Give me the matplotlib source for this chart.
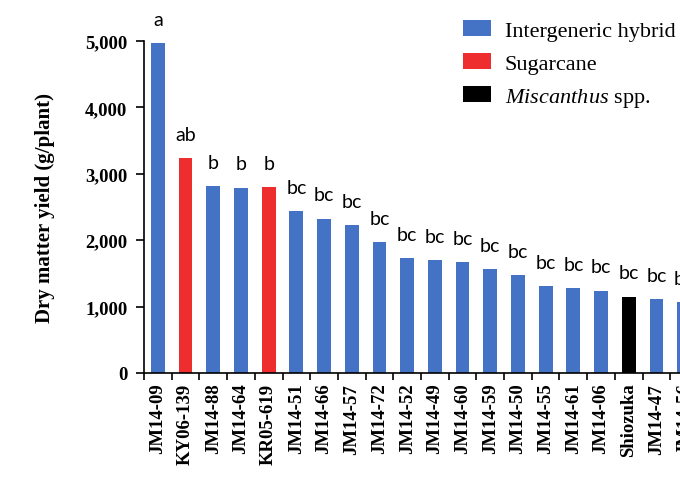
import matplotlib
matplotlib.use("Agg")
import matplotlib.pyplot as plt
from matplotlib.patches import Patch
from matplotlib.ticker import FuncFormatter, FixedLocator

plt.rcParams["mathtext.fontset"] = "custom"
plt.rcParams["mathtext.it"] = "Liberation Serif:italic"
plt.rcParams["mathtext.rm"] = "Liberation Serif"

# Clone names, dry matter yield (g/plant), group and significance letters
clones = ["JM14-09", "KY06-139", "JM14-88", "JM14-64", "KR05-619", "JM14-51",
          "JM14-66", "JM14-57", "JM14-72", "JM14-52", "JM14-49", "JM14-60",
          "JM14-59", "JM14-50", "JM14-55", "JM14-61", "JM14-06", "Shiozuka",
          "JM14-47", "JM14-56"]
yields = [4970, 3240, 2815, 2790, 2800, 2440, 2325, 2230, 1975, 1735,
          1705, 1675, 1565, 1475, 1310, 1280, 1240, 1150, 1115, 1070]
groups = ["hybrid", "sugarcane", "hybrid", "hybrid", "sugarcane", "hybrid",
          "hybrid", "hybrid", "hybrid", "hybrid", "hybrid", "hybrid",
          "hybrid", "hybrid", "hybrid", "hybrid", "hybrid", "miscanthus",
          "hybrid", "hybrid"]
letters = ["a", "ab", "b", "b", "b", "bc", "bc", "bc", "bc", "bc",
           "bc", "bc", "bc", "bc", "bc", "bc", "bc", "bc", "bc", "bc"]
y_ticks = [0, 1000, 2000, 3000, 4000, 5000]

colors = {"hybrid": "#4472C4", "sugarcane": "#EE2D2F", "miscanthus": "#000000"}

W, H = 680, 489
fig = plt.figure(figsize=(W / 100, H / 100), dpi=100)
left, right, bottom, top = 144, 698, 374, 42
ax = fig.add_axes([left / W, 1 - bottom / H, (right - left) / W, (bottom - top) / H])

x = list(range(len(clones)))
ax.bar(x, yields, width=0.5, color=[colors[g] for g in groups], zorder=2)

for xi, v, lab in zip(x, yields, letters):
    ax.annotate(lab, (xi, v), xytext=(0, 11), textcoords="offset points",
                ha="center", va="bottom", fontsize=14, family="Lato",
                annotation_clip=False)

ax.set_xlim(-0.5, len(clones) - 0.5)
ax.set_ylim(0, 5000)
ax.set_yticks(y_ticks)
ax.yaxis.set_major_formatter(FuncFormatter(lambda v, p: f"{int(v):,}"))

ax.set_xticks(x)
ax.set_xticklabels(clones, rotation=90)
ax.xaxis.set_minor_locator(FixedLocator([i - 0.5 for i in range(len(clones) + 1)]))
ax.tick_params(axis="x", which="major", length=0, pad=7)
ax.tick_params(axis="x", which="minor", length=5, width=1.2, direction="out")
ax.tick_params(axis="y", length=6, width=1.2, direction="out", pad=6)

for lbl in ax.get_xticklabels() + ax.get_yticklabels():
    lbl.set_fontfamily("Liberation Serif")
    lbl.set_fontweight("bold")
    lbl.set_fontsize(13.5)

ax.set_ylabel("Dry matter yield (g/plant)", family="Liberation Serif",
              fontweight="bold", fontsize=15, labelpad=22)

for side in ("top", "right"):
    ax.spines[side].set_visible(False)
for side in ("left", "bottom"):
    ax.spines[side].set_linewidth(1.2)

handles = [Patch(facecolor=colors["hybrid"], label="Intergeneric hybrid"),
           Patch(facecolor=colors["sugarcane"], label="Sugarcane"),
           Patch(facecolor=colors["miscanthus"], label=r"$\it{Miscanthus}$ spp.")]
leg = fig.legend(handles=handles, loc="upper left",
                 bbox_to_anchor=(463 / W, 1 - 21 / H), frameon=False,
                 borderpad=0, borderaxespad=0, handlelength=1.26,
                 handleheight=0.72, handletextpad=0.63, labelspacing=0.55,
                 prop={"family": "Liberation Serif", "size": 16})

fig.savefig("out.png", dpi=100)
